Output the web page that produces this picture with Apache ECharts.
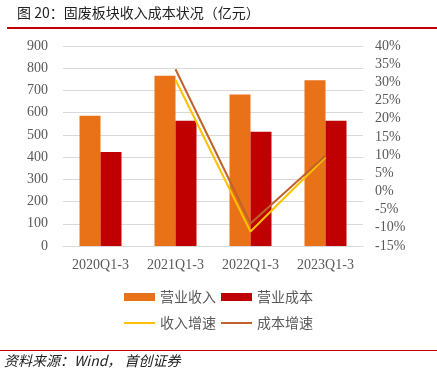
<!DOCTYPE html>
<html><head><meta charset="utf-8">
<script src="https://cdn.jsdelivr.net/npm/echarts@6/dist/echarts.min.js"></script>
<style>html,body{margin:0;padding:0;background:#fff}#c{width:437px;height:378px}</style>
</head><body><div id="c"></div>
<script>
var categories = ['2020Q1-3','2021Q1-3','2022Q1-3','2023Q1-3'];
var revenue = [586, 766, 682, 746];
var cost = [423, 564, 514, 564];
var revenueGrowth = [null, 30.7, -11.0, 9.4];
var costGrowth = [null, 33.6, -8.8, 9.8];
var leftTicks = [0, 900, 100];
var rightTicks = [-15, 40, 5];

var labelFont = {color:'#595959', fontFamily:'"Liberation Serif","Times New Roman",serif', fontSize:14};
var chart = echarts.init(document.getElementById('c'));
chart.setOption({
  animation:false,
  grid:{left:63, right:74, top:46, bottom:132},
  xAxis:{type:'category', data:categories,
    axisLine:{show:true, lineStyle:{color:'#D9D9D9'}}, axisTick:{show:false},
    axisLabel:Object.assign({margin:12}, labelFont)},
  yAxis:[
    {type:'value', min:leftTicks[0], max:leftTicks[1], interval:leftTicks[2],
     splitLine:{lineStyle:{color:'#D9D9D9'}}, axisLine:{show:false}, axisTick:{show:false},
     axisLabel:Object.assign({margin:15}, labelFont)},
    {type:'value', min:rightTicks[0], max:rightTicks[1], interval:rightTicks[2],
     splitLine:{show:false}, axisLine:{show:false}, axisTick:{show:false},
     axisLabel:Object.assign({margin:12, formatter:'{value}%'}, labelFont)}
  ],
  legend:[
    {data:['营业收入','营业成本'], top:285, left:'center', icon:'rect', itemWidth:31, itemHeight:8, itemGap:5,
     textStyle:{color:'#595959', fontSize:14, fontFamily:'"Noto Sans CJK SC"'}},
    {data:['收入增速','成本增速'], top:311, left:'center', icon:'rect', itemWidth:31, itemHeight:2, itemGap:5,
     textStyle:{color:'#595959', fontSize:14, fontFamily:'"Noto Sans CJK SC"'}}
  ],
  series:[
    {name:'营业收入', type:'bar', data:revenue, barWidth:21, barGap:'0%', itemStyle:{color:'#E97117'}},
    {name:'营业成本', type:'bar', data:cost, barWidth:21, barGap:'0%', itemStyle:{color:'#C00000'}},
    {name:'收入增速', type:'line', yAxisIndex:1, data:revenueGrowth, symbol:'none', lineStyle:{color:'#FFC000', width:2}, itemStyle:{color:'#FFC000'}},
    {name:'成本增速', type:'line', yAxisIndex:1, data:costGrowth, symbol:'none', lineStyle:{color:'#C0622A', width:2}, itemStyle:{color:'#C0622A'}}
  ],
  graphic:[
    {type:'text', left:17, top:6, style:{text:'图 20：固废板块收入成本状况（亿元）', fill:'#222', font:'14px "Noto Sans CJK SC"'}},
    {type:'rect', shape:{x:7, y:27, width:430, height:2}, style:{fill:'#C00000'}},
    {type:'rect', shape:{x:0, y:350, width:437, height:1}, style:{fill:'#C00000'}},
    {type:'text', left:4, top:354, style:{text:'资料来源：Wind， 首创证券', fill:'#222', font:'italic 14px "Noto Sans CJK SC"'}}
  ]
});
</script></body></html>
